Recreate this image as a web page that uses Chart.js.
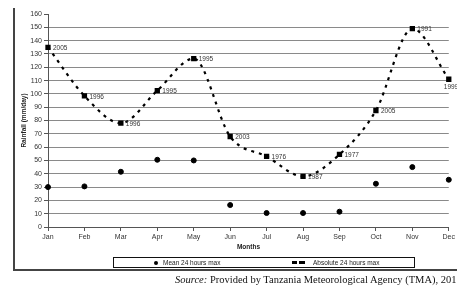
<!DOCTYPE html>
<html>
<head>
<meta charset="utf-8">
<script src="https://cdn.jsdelivr.net/npm/chart.js@4"></script>
<style>
  html, body { margin: 0; padding: 0; background: #fff; overflow: hidden; }
  #wrap { position: relative; width: 457px; height: 289px; overflow: hidden; }
  canvas { position: absolute; left: 0; top: 0; }
  .frameL { position: absolute; left: 13px; top: 8px; width: 2px; height: 263px; background: #444; }
  .frameB { position: absolute; left: 13px; top: 269px; width: 444px; height: 2px; background: #444; }
  .xtitle { position: absolute; left: 0; width: 497px; top: 243px; text-align: center;
            font: bold 6.5px "Liberation Sans", Arial, sans-serif; color: #222; }
  .legend { position: absolute; left: 113px; top: 257px; width: 300px; height: 9px;
            border: 1px solid #111; font: 6.5px "Liberation Sans", Arial, sans-serif; color: #222; }
  .legend span { position: absolute; top: 0; line-height: 9px; }
  .dot { position: absolute; left: 40px; top: 2.5px; width: 4px; height: 4px; border-radius: 50%; background: #000; }
  .dash { position: absolute; top: 3px; height: 3px; background: #000; }
  .source { position: absolute; left: 175px; top: 274px; white-space: nowrap;
            font: 10.5px "Liberation Serif", "Times New Roman", serif; color: #111; }
</style>
</head>
<body>
<div id="wrap">
  <canvas id="chart" width="457" height="289"></canvas>
  <div class="frameL"></div>
  <div class="frameB"></div>
  <div class="xtitle">Months</div>
  <div class="legend">
    <div class="dot"></div>
    <span style="left:49px">Mean 24 hours max</span>
    <div class="dash" style="left:178px;width:5px"></div>
    <div class="dash" style="left:185px;width:6px"></div>
    <span style="left:199px">Absolute 24 hours max</span>
  </div>
  <div class="source"><i>Source:</i> Provided by Tanzania Meteorological Agency (TMA), 201</div>
</div>
<script>
// monthly rainfall, mm/day
const months = ['Jan', 'Feb', 'Mar', 'Apr', 'May', 'Jun', 'Jul', 'Aug', 'Sep', 'Oct', 'Nov', 'Dec'];
const meanMax = [30, 30.5, 41.5, 50.5, 50, 16.5, 10.5, 10.5, 11.5, 32.5, 45, 35.5];
const absoluteMax = [135, 98.5, 78, 102.5, 126.5, 68, 53, 38, 54.5, 87.5, 149, 111];
const absoluteYears = ['2005', '1996', '1996', '1995', '1995', '2003', '1976', '1987', '1977', '2005', '1991', '1999'];

const tickFont = { family: '"Liberation Sans", Arial, sans-serif', size: 7 };

// year labels next to the absolute max points
const yearLabels = {
    id: 'yearLabels',
    afterDatasetsDraw(chart) {
        const ctx = chart.ctx;
        const meta = chart.getDatasetMeta(1);
        ctx.save();
        ctx.font = '6.5px "Liberation Sans", Arial, sans-serif';
        ctx.fillStyle = '#333';
        ctx.textBaseline = 'middle';
        ctx.textAlign = 'left';
        meta.data.forEach((pt, i) => {
            if (i === meta.data.length - 1) {
                ctx.fillText(absoluteYears[i], pt.x - 5, pt.y + 8);
            } else {
                ctx.fillText(absoluteYears[i], pt.x + 5, pt.y + 1);
            }
        });
        ctx.restore();
    }
};

new Chart(document.getElementById('chart').getContext('2d'), {
    type: 'line',
    data: {
        labels: months,
        datasets: [
            {
                label: 'Mean 24 hours max',
                data: meanMax,
                showLine: false,
                pointStyle: 'circle',
                pointRadius: 2.5,
                pointBackgroundColor: '#000',
                pointBorderColor: '#000',
            },
            {
                label: 'Absolute 24 hours max',
                data: absoluteMax,
                borderColor: '#000',
                borderWidth: 2.2,
                borderDash: [3, 5],
                cubicInterpolationMode: 'monotone',
                pointStyle: 'rect',
                pointRadius: 2.2,
                pointBackgroundColor: '#000',
                pointBorderColor: '#000',
            }
        ]
    },
    options: {
        responsive: false,
        animation: false,
        devicePixelRatio: 1,
        layout: { padding: { left: 14, right: 8, top: 14, bottom: 0 } },
        plugins: {
            legend: { display: false },
            tooltip: { enabled: false },
        },
        scales: {
            x: {
                offset: false,
                grid: { drawOnChartArea: false, drawTicks: true, tickLength: 4, tickColor: '#555' },
                border: { color: '#555', width: 1 },
                ticks: { font: tickFont, color: '#333', padding: 2, autoSkip: false, maxRotation: 0 },
                afterFit: (scale) => { scale.height = 62; },
            },
            y: {
                min: 0,
                max: 160,
                ticks: { stepSize: 10, font: tickFont, color: '#333', padding: 2 },
                grid: {
                    color: (c) => (c.tick && c.tick.value === 160 ? 'rgba(0,0,0,0)' : '#8a8a8a'),
                    tickColor: '#555',
                    tickLength: 4,
                },
                border: { color: '#555', width: 1 },
                title: {
                    display: true,
                    text: 'Rainfall (mm/day)',
                    font: { family: '"Liberation Sans", Arial, sans-serif', size: 6.5, weight: 'bold' },
                    color: '#222',
                    padding: { top: 6, bottom: 0 },
                },
                afterFit: (scale) => { scale.width = 34; },
            }
        }
    },
    plugins: [yearLabels]
});
</script>
</body>
</html>
